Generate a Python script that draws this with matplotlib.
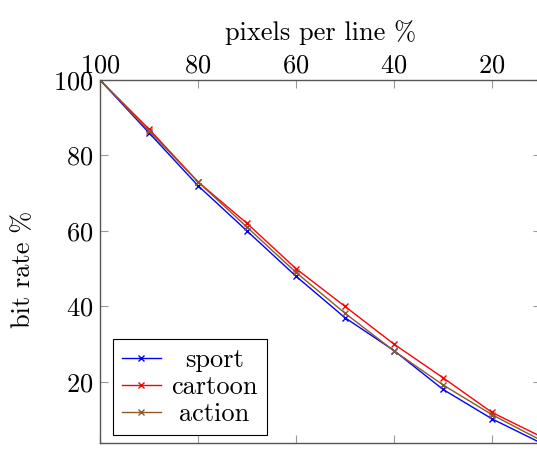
import matplotlib.pyplot as plt

plt.rcParams['font.family'] = 'cmr10'
plt.rcParams['axes.formatter.use_mathtext'] = True
plt.rcParams['mathtext.fontset'] = 'cm'

# pixels per line (%) and bit rate (%) per content type
pixels = [100, 90, 80, 70, 60, 50, 40, 30, 20, 10]
sport = [100, 86, 72, 60, 48, 37, 28.3, 18, 10.2, 3.8]
cartoon = [100, 87, 73, 62, 50, 40, 30, 21.1, 11.9, 5.5]
action = [100, 86.5, 73, 61, 49, 38.2, 28.2, 19.2, 11.3, 4.5]

fig = plt.figure(figsize=(5.37, 4.5), dpi=100)
ax = fig.add_axes([100 / 537, 7 / 450, 441 / 537, 363 / 450])

ax.plot(pixels, sport, color='blue', marker='x', ms=5, lw=1, label='sport')
ax.plot(pixels, cartoon, color='red', marker='x', ms=5, lw=1, label='cartoon')
ax.plot(pixels, action, color='#8b5a2b', marker='x', ms=5, lw=1, label='action')

ax.set_xlim(100, 10)
ax.set_ylim(3.8, 100)
ax.set_xticks([100, 80, 60, 40, 20])
ax.set_yticks([20, 40, 60, 80, 100])

ax.xaxis.set_label_position('top')
ax.xaxis.tick_top()
ax.tick_params(axis='both', which='both', direction='in', top=True, bottom=True,
               left=True, right=True, labelsize=19, color='#999999', length=6)
ax.tick_params(axis='x', pad=2)
ax.tick_params(axis='y', pad=5)
for s in ax.spines.values():
    s.set_color('#555555')
    s.set_linewidth(1)

ax.set_xlabel('pixels per line %', fontsize=19, labelpad=10)
ax.set_ylabel('bit rate %', fontsize=19)
ax.yaxis.set_label_coords(-0.147, 0.479)

leg = ax.legend(loc='lower left', fontsize=19, fancybox=False, framealpha=1,
                edgecolor='black', borderpad=0.35, labelspacing=0.12,
                handlelength=1.45, handletextpad=0.4, borderaxespad=0,
                bbox_to_anchor=(13 / 441, 8 / 363))
leg.get_frame().set_linewidth(0.8)

# center the legend entries like pgfplots does
fig.canvas.draw()
r = fig.canvas.get_renderer()
widths = [t.get_window_extent(r).width for t in leg.get_texts()]
for t, w in zip(leg.get_texts(), widths):
    t.set_position(((max(widths) - w) / 2, 0))

fig.savefig('out.png', dpi=100)
